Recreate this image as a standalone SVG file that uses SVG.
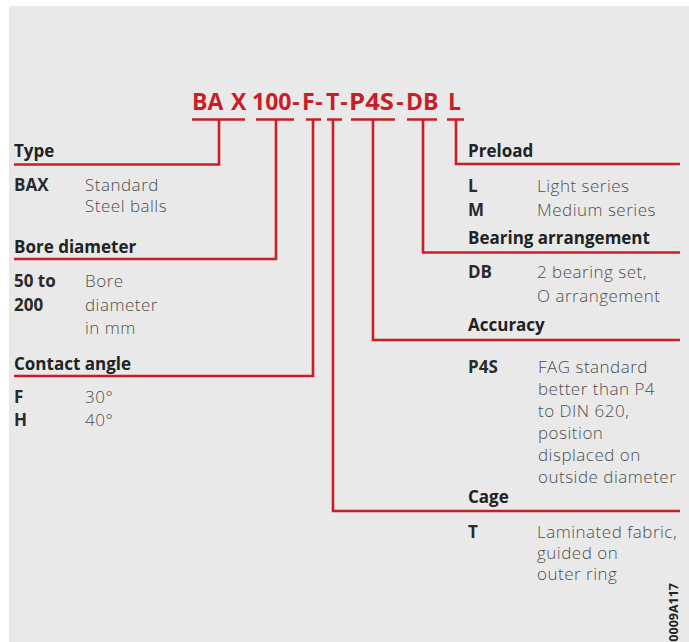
<svg xmlns="http://www.w3.org/2000/svg" width="689" height="642" viewBox="0 0 689 642">
<style>
.code{font-family:"Open Sans","Noto Sans",sans-serif;font-weight:700;font-size:23px;fill:#c81e28}
.h{font-family:"Open Sans","Noto Sans",sans-serif;font-weight:700;font-size:17px;fill:#222}
.k{font-family:"Open Sans","Noto Sans",sans-serif;font-weight:700;font-size:17px;fill:#2a2a2a}
.v{font-family:"Open Sans","Noto Sans",sans-serif;font-weight:300;font-size:17px;letter-spacing:0.5px;fill:#4e4e4e}
.c{fill:none;stroke:#c81e28;stroke-width:2.6;stroke-linejoin:miter;stroke-linecap:butt}
.wm{font-family:"Open Sans","Noto Sans",sans-serif;font-weight:700;font-size:12.5px;fill:#222}
</style>
<rect x="0" y="0" width="689" height="642" fill="#ffffff"/>
<rect x="9" y="6" width="680" height="636" fill="#e9e9e9"/>
<g id="code">
<text class="code" x="192" y="110">BA</text>
<text class="code" x="231" y="110">X</text>
<text class="code" x="252" y="110">100</text>
<text class="code" x="296" y="110" text-anchor="middle">-</text>
<text class="code" x="302" y="110">F</text>
<text class="code" x="319" y="110" text-anchor="middle">-</text>
<text class="code" x="326" y="110">T</text>
<text class="code" x="344" y="110" text-anchor="middle">-</text>
<text class="code" x="349" y="110" textLength="45" lengthAdjust="spacingAndGlyphs">P4S</text>
<text class="code" x="400" y="110" text-anchor="middle">-</text>
<text class="code" x="406" y="110">DB</text>
<text class="code" x="448" y="110">L</text>
</g>
<g id="connectors">
<path class="c" d="M192,119.5 H245 M219,119.5 V164.5 H14"/>
<path class="c" d="M256,119.5 H294 M276,119.5 V259 H14"/>
<path class="c" d="M306,119.5 H321 M313,119.5 V376 H14"/>
<path class="c" d="M327,119.5 H342 M333,119.5 V511 H680"/>
<path class="c" d="M351,119.5 H395 M373,119.5 V340 H680"/>
<path class="c" d="M407,119.5 H437 M423,119.5 V252.5 H680"/>
<path class="c" d="M447,119.5 H464 M456,119.5 V164 H680"/>
</g>
<g id="type">
<text class="h" x="14" y="157">Type</text>
<text class="k" x="14" y="191">BAX</text>
<text class="v" x="85" y="191">Standard</text>
<text class="v" x="85" y="212">Steel balls</text>
</g>
<g id="bore">
<text class="h" x="14" y="253">Bore diameter</text>
<text class="k" x="14" y="287">50 to</text>
<text class="k" x="14" y="311">200</text>
<text class="v" x="85" y="287">Bore</text>
<text class="v" x="85" y="311">diameter</text>
<text class="v" x="85" y="334">in mm</text>
</g>
<g id="contact">
<text class="h" x="14" y="370">Contact angle</text>
<text class="k" x="14" y="403">F</text>
<text class="v" x="85" y="403">30°</text>
<text class="k" x="14" y="426">H</text>
<text class="v" x="85" y="426">40°</text>
</g>
<g id="preload">
<text class="h" x="468" y="157">Preload</text>
<text class="k" x="468" y="192">L</text>
<text class="v" x="537" y="192">Light series</text>
<text class="k" x="468" y="216">M</text>
<text class="v" x="537" y="216">Medium series</text>
</g>
<g id="arrangement">
<text class="h" x="468" y="244">Bearing arrangement</text>
<text class="k" x="468" y="278">DB</text>
<text class="v" x="537" y="278">2 bearing set,</text>
<text class="v" x="537" y="302">O arrangement</text>
</g>
<g id="accuracy">
<text class="h" x="468" y="331">Accuracy</text>
<text class="k" x="468" y="373">P4S</text>
<text class="v" x="538" y="373">FAG standard</text>
<text class="v" x="538" y="395">better than P4</text>
<text class="v" x="538" y="417">to DIN 620,</text>
<text class="v" x="538" y="439">position</text>
<text class="v" x="538" y="461">displaced on</text>
<text class="v" x="538" y="483">outside diameter</text>
</g>
<g id="cage">
<text class="h" x="468" y="503">Cage</text>
<text class="k" x="468" y="538">T</text>
<text class="v" x="537" y="538">Laminated fabric,</text>
<text class="v" x="537" y="559">guided on</text>
<text class="v" x="537" y="580">outer ring</text>
</g>
<text class="wm" transform="translate(678,583) rotate(-90)" text-anchor="end">0009A117</text>
</svg>
